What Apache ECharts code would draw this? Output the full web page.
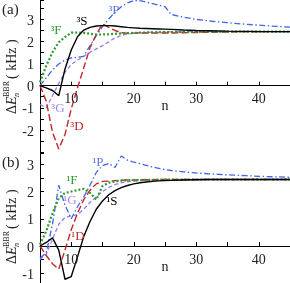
<!DOCTYPE html>
<html><head><meta charset="utf-8">
<script src="https://cdn.jsdelivr.net/npm/echarts@6/dist/echarts.min.js"></script>
<style>html,body{margin:0;padding:0;background:#fff}#c{width:290px;height:283px}</style>
</head><body><div id="c"></div>
<script>
// principal quantum numbers
const nValues = [5,6,7,8,9,10,11,12,13,14,15,16,17,18,19,20,21,22,23,24,25,26,28,30,32,35,38,41,45];
// panel (a): triplet series, kHz
const t3S = [0,-0.1,-0.22,-0.45,0.75,1.6,2.2,2.5,2.62,2.68,2.7,2.7,2.68,2.65,2.62,2.6,2.58,2.57,2.56,2.55,2.54,2.53,2.5,2.48,2.47,2.45,2.44,2.43,2.43];
const t3P = [0,0.35,0.7,0.97,1.15,1.25,1.27,1.32,1.8,2.25,2.65,3.0,3.3,3.55,3.72,3.83,3.82,3.76,3.69,3.62,3.55,3.2,3.08,2.98,2.91,2.83,2.76,2.7,2.63];
const t3D = [0,-0.7,-2.1,-2.85,-2.2,-1.05,-0.1,0.8,1.7,2.3,2.77,2.62,2.48,2.38,2.36,2.36,2.37,2.37,2.37,2.37,2.37,2.37,2.38,2.39,2.4,2.41,2.42,2.43,2.43];
const t3F = [0.15,0.9,1.5,1.95,2.18,2.38,2.39,2.37,2.33,2.3,2.3,2.31,2.33,2.35,2.36,2.37,2.38,2.39,2.4,2.4,2.41,2.41,2.42,2.42,2.43,2.43,2.43,2.43,2.43];
const t3G = [-0.85,-1.0,-0.45,0.1,0.6,0.95,1.15,1.32,1.5,1.65,1.8,1.97,2.15,2.25,2.32,2.36,2.38,2.39,2.4,2.41,2.41,2.42,2.43,2.43,2.43,2.43,2.43,2.43,2.43];
// panel (b): singlet series, kHz
const s1S = [0,0.13,0.3,-0.15,-1.22,-1.12,-0.4,0.35,0.9,1.35,1.65,1.88,2.03,2.14,2.22,2.28,2.32,2.35,2.37,2.39,2.4,2.41,2.42,2.43,2.44,2.44,2.44,2.44,2.44];
const s1P = [-0.45,-0.25,0.8,2.23,1.5,1.0,1.44,1.8,2.23,2.7,2.95,3.03,2.88,3.3,3.15,3.08,3.02,2.96,2.9,2.85,2.8,2.77,2.72,2.68,2.65,2.61,2.58,2.55,2.52];
const s1D = [0,-0.35,-0.65,-0.85,-0.15,0.6,1.2,1.7,2.05,2.28,2.37,2.38,2.4,2.41,2.42,2.42,2.43,2.43,2.43,2.44,2.44,2.44,2.44,2.44,2.44,2.44,2.44,2.44,2.44];
const s1F = [0.05,0.55,1.2,1.75,1.95,2.0,2.05,2.1,1.95,1.7,2.2,2.32,2.37,2.4,2.41,2.42,2.42,2.43,2.43,2.43,2.44,2.44,2.44,2.44,2.44,2.44,2.44,2.44,2.44];
const s1G = [-0.5,-0.3,0.25,0.8,1.05,1.1,1.15,1.35,1.6,1.8,2.0,2.15,2.25,2.32,2.36,2.38,2.4,2.41,2.42,2.42,2.43,2.43,2.44,2.44,2.44,2.44,2.44,2.44,2.44];
// tick labels
const xLabelTicks = [10,20,30,40];
const yLabelsA = [-2,-1,0,1,2,3];
const yLabelsB = [-1,0,1,2,3];
// axis ranges (min is a multiple of the 0.5 tick interval)
const yRangeA = [-3, 3.85], yRangeB = [-1.5, 3.41];

const FONT = 'Liberation Serif';
const C = {k:'#000', r:'#c0282c', g:'#2f9a2f', l:'#8d7ff5', b:'#3f66ee'};
const PANEL = [{unit:22.22, zero:85.6}, {unit:27.25, zero:246}];
const GRIDS = PANEL.map((p,i)=>{
  const yr = i===0 ? yRangeA : yRangeB;
  return {left:40, right:0, top:p.zero - yr[1]*p.unit, height:(yr[1]-yr[0])*p.unit, outerBoundsMode:'none', containLabel:false};
});

function xAx(gi, yr){
  // lift the axis from the grid bottom to the y = 0 line
  const off = -(0 - yr[0]) / (yr[1] - yr[0]) * GRIDS[gi].height;
  return {type:'value', gridIndex:gi, min:5, max:45, interval:5, position:'bottom', offset:off,
    axisLine:{show:true, onZero:false, lineStyle:{color:'#000', width:1}},
    axisTick:{show:true, inside:true, length:4, lineStyle:{color:'#000'}},
    axisLabel:{show:false}, splitLine:{show:false}};
}
function yAx(gi,yr){
  return {type:'value', gridIndex:gi, min:yr[0], max:yr[1], interval:0.5, position:'left',
    axisLine:{show:true, onZero:false, lineStyle:{color:'#000', width:1}},
    axisTick:{show:true, inside:true, length:4, lineStyle:{color:'#000', width:1}},
    axisLabel:{show:false}, splitLine:{show:false}};
}
function ser(gi, arr, color, type, width){
  return {type:'line', xAxisIndex:gi, yAxisIndex:gi, symbol:'none', silent:true,
    data:nValues.map((n,i)=>[n,arr[i]]),
    lineStyle:{color:color, width:width, type:type}, clip:true};
}
const dashed=[7,3], dashed2=[4,2.5], dotted=[2,2], dashdot=[6,2.5,1.5,2.5];

function txt(x,y,t,color,size,align){
  return {type:'text', x:x, y:y, z:10, style:{text:t, fill:color, font:size+'px '+FONT,
    align:align, verticalAlign:'middle', textAlign:align, textVerticalAlign:'middle'}};
}
function yName(cx,cy){
  return {type:'group', x:cx, y:cy, rotation:Math.PI/2, children:[
    {type:'text', x:-38, y:0, style:{text:'{d|Δ}{e|E}', rich:{d:{font:'14px '+FONT, fill:'#222'}, e:{font:'italic 14px '+FONT, fill:'#222'}}, verticalAlign:'middle', textVerticalAlign:'middle'}},
    {type:'text', x:-21, y:-5, style:{text:'BBR', font:'8px '+FONT, fill:'#222', verticalAlign:'middle', textVerticalAlign:'middle'}},
    {type:'text', x:-21, y:4.5, style:{text:'n', font:'italic 8px '+FONT, fill:'#222', verticalAlign:'middle', textVerticalAlign:'middle'}},
    {type:'text', x:-3, y:0, style:{text:'( kHz )', font:'14px '+FONT, fill:'#222', verticalAlign:'middle', textVerticalAlign:'middle'}}
  ]};
}

const chart = echarts.init(document.getElementById('c'), null, {renderer:'canvas'});
chart.setOption({
  animation:false,
  backgroundColor:'#fff',
  grid:GRIDS,
  xAxis:[xAx(0,yRangeA), xAx(1,yRangeB)],
  yAxis:[yAx(0,yRangeA), yAx(1,yRangeB)],
  series:[
    ser(0,t3G,C.l,dashed2,1.3), ser(0,t3P,C.b,dashdot,1.3), ser(0,t3D,C.r,dashed,1.4),
    ser(0,t3F,C.g,dotted,2.2), ser(0,t3S,C.k,'solid',1.4),
    ser(1,s1G,C.l,dashed2,1.3), ser(1,s1P,C.b,dashdot,1.3), ser(1,s1D,C.r,dashed,1.4),
    ser(1,s1F,C.g,dotted,2.2), ser(1,s1S,C.k,'solid',1.4)
  ]
});

// tick labels placed through the library's own axis scales
const G = [
  {type:'text', x:2, y:10, style:{text:'(a)', font:'15px '+FONT, fill:'#222', verticalAlign:'middle', textVerticalAlign:'middle'}},
  {type:'text', x:2, y:163, style:{text:'(b)', font:'15px '+FONT, fill:'#222', verticalAlign:'middle', textVerticalAlign:'middle'}},
  yName(12,76), yName(12,226)
];
[[0,yLabelsA],[1,yLabelsB]].forEach(([gi,labs])=>{
  labs.forEach(v=>{
    const p = chart.convertToPixel({gridIndex:gi}, [5, v]);
    G.push(txt(p[0]-6, p[1]+2, String(v), '#222', 14, 'right'));
  });
  xLabelTicks.forEach(n=>{
    const p = chart.convertToPixel({gridIndex:gi}, [n, 0]);
    G.push(txt(p[0], p[1]+14, String(n), '#222', 14, 'center'));
  });
  const pn = chart.convertToPixel({gridIndex:gi}, [25, 0]);
  G.push(txt(pn[0], pn[1]+21, 'n', '#222', 14, 'center'));
});
G.push(
  txt(82,22,'³S',C.k,13,'center'), txt(56,31,'³F',C.g,13,'center'), txt(114,11,'³P','#5b78f0',13,'center'),
  txt(58,109,'³G','#9a86f5',13,'center'), txt(77,127,'³D',C.r,13,'center'),
  txt(98,163,'¹P','#5b78f0',13,'center'), txt(72,181,'¹F',C.g,13,'center'), txt(70,201,'¹G','#9a86f5',13,'center'),
  txt(112,202,'¹S',C.k,13,'center'), txt(78,237,'¹D',C.r,13,'center')
);
chart.setOption({graphic:G});
</script></body></html>
